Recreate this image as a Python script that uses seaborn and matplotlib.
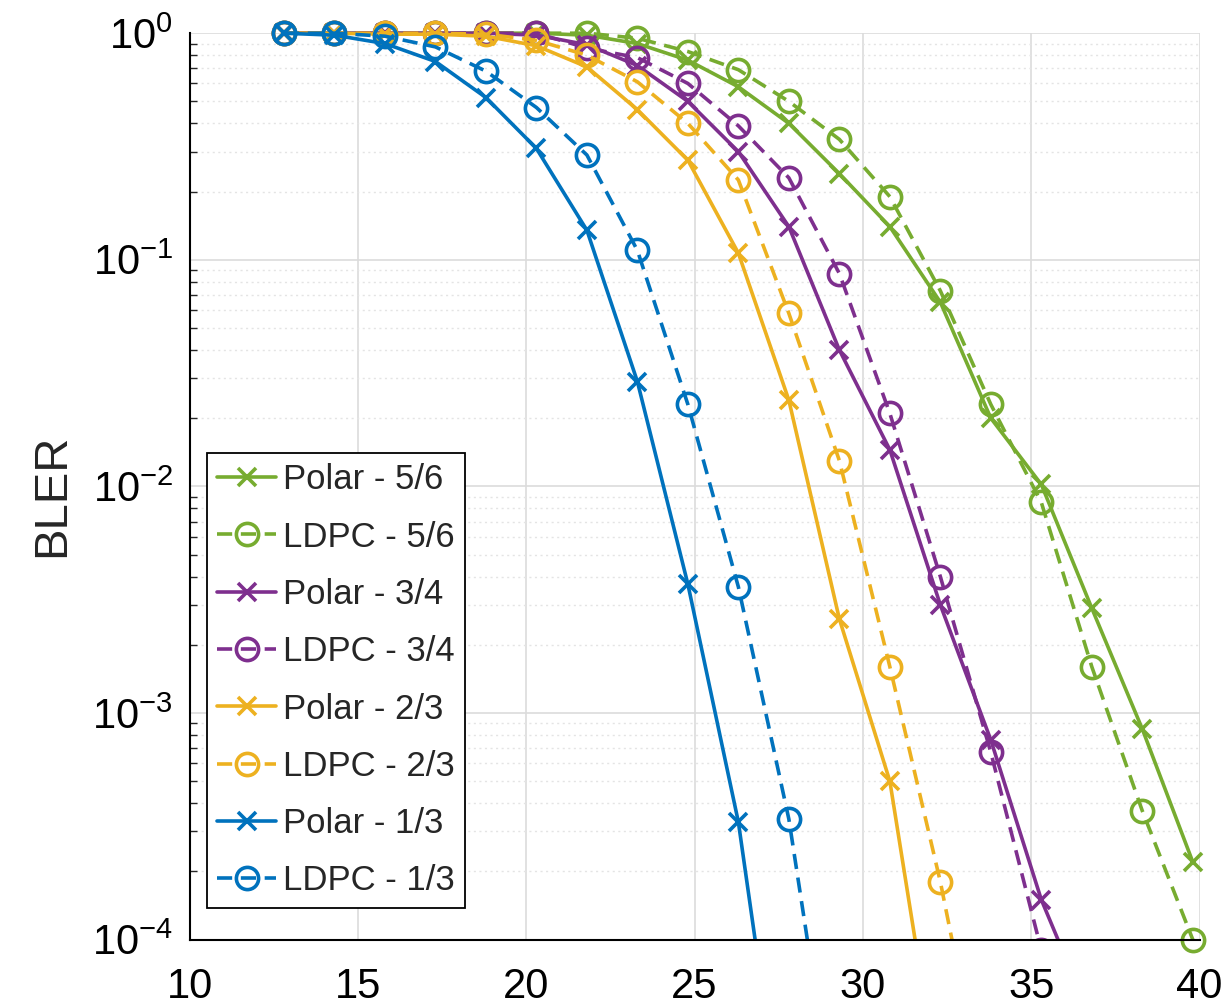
import matplotlib
matplotlib.use("Agg")
import matplotlib.pyplot as plt
from matplotlib import font_manager
import numpy as np
import pandas as pd
import seaborn as sns
from matplotlib.ticker import LogLocator, NullFormatter, FixedLocator
from matplotlib.transforms import Bbox, TransformedBbox

# SNR grid (dB) shared by all curves
snr = [12.8, 14.3, 15.8, 17.3, 18.8, 20.3, 21.8, 23.3, 24.8, 26.3,
       27.8, 29.3, 30.8, 32.3, 33.8, 35.3, 36.8, 38.3, 39.8]

# BLER (points below 1e-4 only make the line run off the axis)
polar_56 = [1.0, 1.0, 1.0, 1.0, 1.0, 1.0, 0.98, 0.90, 0.76, 0.58, 0.40, 0.24,
            0.14, 0.065, 0.020, 0.0102, 0.0029, 0.00085, 0.00022]
ldpc_56 = [1.0, 1.0, 1.0, 1.0, 1.0, 1.0, 1.0, 0.95, 0.83, 0.69, 0.50, 0.34,
           0.19, 0.073, 0.023, 0.0085, 0.0016, 0.00037, 0.0001]
polar_34 = [1.0, 1.0, 1.0, 1.0, 1.0, 0.98, 0.89, 0.72, 0.50, 0.30, 0.14, 0.040,
            0.0145, 0.0030, 0.00076, 0.00015, 4.4e-5]
ldpc_34 = [1.0, 1.0, 1.0, 1.0, 1.0, 1.0, 0.86, 0.78, 0.60, 0.39, 0.23, 0.087,
           0.021, 0.0040, 0.00067, 9e-5]
polar_23 = [1.0, 1.0, 0.99, 0.99, 0.97, 0.88, 0.71, 0.46, 0.275, 0.107, 0.024,
            0.0026, 0.0005, 2e-5]
ldpc_23 = [1.0, 1.0, 1.0, 1.0, 0.99, 0.93, 0.80, 0.61, 0.40, 0.225, 0.058,
           0.013, 0.0016, 0.00018, 1.4e-5]
polar_13 = [1.0, 0.98, 0.90, 0.75, 0.52, 0.31, 0.135, 0.029, 0.0037, 0.00033, 9e-6]
ldpc_13 = [1.0, 1.0, 0.97, 0.87, 0.68, 0.47, 0.29, 0.11, 0.023, 0.0036,
           0.00034, 1.2e-5]

labels = ["Polar - 5/6", "LDPC - 5/6", "Polar - 3/4", "LDPC - 3/4",
          "Polar - 2/3", "LDPC - 2/3", "Polar - 1/3", "LDPC - 1/3"]
curves = [polar_56, ldpc_56, polar_34, ldpc_34, polar_23, ldpc_23, polar_13, ldpc_13]

# matlab default colours
green = "#77AC30"
purple = "#7E2F8E"
yellow = "#EDB120"
blue = "#0072BD"
colors = [green, green, purple, purple, yellow, yellow, blue, blue]

sns.set_style("white")
plt.rcParams['font.family'] = ['Liberation Sans', 'DejaVu Sans']
plt.rcParams['mathtext.default'] = 'regular'

# the legend text in the original is narrow, use the narrow face if there is one
names = {f.name for f in font_manager.fontManager.ttflist}
if "Liberation Sans Narrow" in names:
    leg_font = dict(family="Liberation Sans Narrow", size=28)
else:
    leg_font = dict(family="Liberation Sans", size=25)

fig = plt.figure(figsize=(12.24, 10.06), dpi=100)
ax = fig.add_axes([0.155, 0.066, 0.825, 0.901])

for lab, vals, col in zip(labels, curves, colors):
    polar = lab.startswith("Polar")
    sns.lineplot(x=snr[:len(vals)], y=vals, ax=ax, label=lab, color=col,
                 linestyle="-" if polar else (0, (4.2, 2.4)),
                 marker="x" if polar else "o", markersize=13 if polar else 16,
                 markerfacecolor="none", markeredgecolor=col,
                 markeredgewidth=2.6, linewidth=2.6, errorbar=None)

ax.set_yscale("log")
ax.set_xlim(10, 40)
ax.set_ylim(1e-4, 1)

# lines running below 1e-4 stay clipped at the bottom, markers at the edges can stick out
clip = TransformedBbox(Bbox([[-0.05, 0.0], [1.05, 1.05]]), ax.transAxes)
for line in ax.lines:
    if np.min(line.get_ydata()) >= 1e-4:
        line.set_clip_on(False)
    else:
        line.set_clip_box(clip)

ax.xaxis.set_major_locator(FixedLocator([10, 15, 20, 25, 30, 35, 40]))
ax.yaxis.set_major_locator(LogLocator(base=10, numticks=10))
ax.yaxis.set_minor_locator(LogLocator(base=10, subs=np.arange(2, 10), numticks=20))
ax.yaxis.set_minor_formatter(NullFormatter())

ax.grid(True, which="major", color="#dcdcdc", linewidth=1.2)
ax.grid(True, which="minor", axis="y", color="#e4e4e4", linewidth=1.0, linestyle=(0, (1.5, 2.5)))
ax.set_axisbelow(True)

for s in ["top", "right"]:
    ax.spines[s].set_visible(False)
for s in ["left", "bottom"]:
    ax.spines[s].set_color("black")
    ax.spines[s].set_linewidth(1.5)

ax.tick_params(axis="both", which="major", direction="in", length=9, width=1.3,
               labelsize=30, colors="black")
ax.tick_params(axis="x", which="major", pad=20)
ax.tick_params(axis="y", which="major", pad=12)
ax.tick_params(axis="y", which="minor", direction="in", length=5, width=1.0, left=True)
ax.tick_params(axis="x", which="minor", bottom=False)

ax.set_ylabel("BLER", fontsize=34)
ax.yaxis.set_label_coords(-0.114, 0.49)
ax.set_xlabel("")

leg = ax.legend(loc="lower left", bbox_to_anchor=(0.017, 0.035), borderaxespad=0,
                prop=leg_font, frameon=True, fancybox=False, framealpha=1,
                edgecolor="black", handlelength=1.7, handletextpad=0.2,
                labelspacing=0.7, borderpad=0.3, numpoints=1)
leg.get_frame().set_linewidth(1.3)

fig.savefig("out.png", dpi=100)
